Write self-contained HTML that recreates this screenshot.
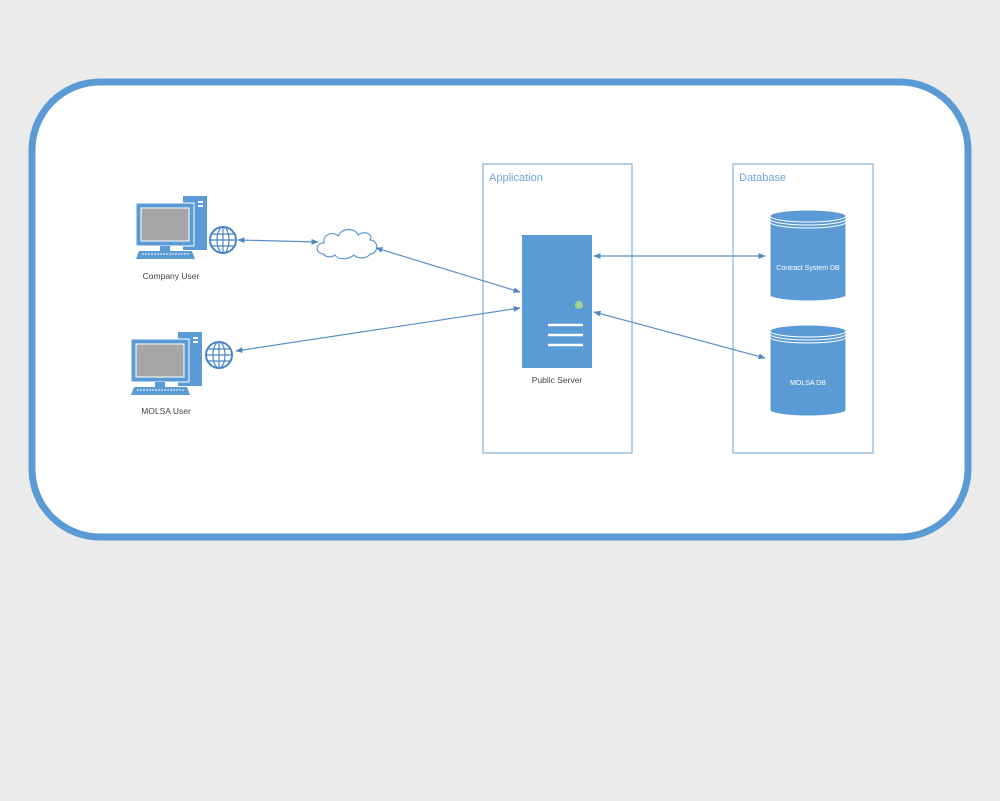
<!DOCTYPE html>
<html><head><style>body{margin:0;background:#ebebeb}svg{display:block}</style></head><body>
<svg width="1000" height="801" viewBox="0 0 1000 801" xmlns="http://www.w3.org/2000/svg" font-family="Liberation Sans, sans-serif">
<defs><marker id="a" viewBox="0 0 10 10" refX="9" refY="5" markerWidth="6" markerHeight="6" orient="auto-start-reverse"><path d="M0,1 L10,5 L0,9z" fill="#4f87c0"/></marker></defs>
<rect width="1000" height="801" fill="#ebebeb"/>
<rect x="32" y="82" width="936" height="455" rx="68" fill="#fff" stroke="#5b9bd5" stroke-width="7"/>
<g fill="none" stroke="#9dc0e0" stroke-width="1.5">
<rect x="483" y="164" width="149" height="289"/><rect x="733" y="164" width="140" height="289"/></g>
<text x="489" y="181" font-size="11" fill="#6fa3d6">Application</text>
<text x="739" y="181" font-size="11" fill="#6fa3d6">Database</text>
<!-- computers -->
<g id="pc1">
<rect x="183" y="196" width="24" height="54" fill="#5b9bd5"/><rect x="198" y="201" width="5" height="2" fill="#fff"/><rect x="198" y="205" width="5" height="2" fill="#fff"/>
<rect x="136" y="203" width="58" height="43" fill="#5b9bd5" stroke="#fff" stroke-width="1"/><rect x="141" y="208" width="48" height="33" fill="#a6a6a6" stroke="#fff"/>
<rect x="160" y="246" width="10" height="5" fill="#5b9bd5"/>
<path d="M139 251 H192 L195 259 H136z" fill="#5b9bd5"/><path d="M142 254 H190" stroke="#fff" stroke-dasharray="2 1"/>
</g>
<g transform="translate(-5,136)"><use href="#pc1"/></g>
<g fill="#fff" stroke="#4a86c5" stroke-width="2">
<circle cx="223" cy="240" r="13"/><circle cx="219" cy="355" r="13"/></g>
<g fill="none" stroke="#4a86c5" stroke-width="1.2">
<ellipse cx="223" cy="240" rx="6" ry="13"/><path d="M210 240H236M223 227V253M212 234H234M212 246H234"/>
<ellipse cx="219" cy="355" rx="6" ry="13"/><path d="M206 355H232M219 342V368M208 349H230M208 361H230"/></g>
<text x="171" y="279" font-size="8.5" fill="#444" text-anchor="middle">Company User</text>
<text x="166" y="414" font-size="8.5" fill="#444" text-anchor="middle">MOLSA User</text>
<!-- cloud -->
<path d="M324 254 C314 254 316 242 324 243 C322 234 334 231 338 236 C342 227 356 228 358 235 C364 230 374 234 370 240 C380 241 378 254 370 254 C366 260 356 258 354 255 C348 260 338 260 335 255 C331 258 325 257 324 254z" fill="#fff" stroke="#5b9bd5" stroke-width="1.2"/>
<!-- arrows -->
<g stroke="#5b8fc7" stroke-width="1.2" marker-start="url(#a)" marker-end="url(#a)">
<line x1="238" y1="240" x2="318" y2="242"/><line x1="376" y1="248" x2="520" y2="292"/>
<line x1="236" y1="351" x2="520" y2="308"/><line x1="594" y1="256" x2="765" y2="256"/>
<line x1="594" y1="312" x2="765" y2="358"/></g>
<!-- server -->
<rect x="522" y="235" width="70" height="133" fill="#5b9bd5"/>
<circle cx="579" cy="305" r="4" fill="#a8d08d"/>
<g stroke="#fff" stroke-width="2.5"><line x1="548" y1="325" x2="583" y2="325"/><line x1="548" y1="335" x2="583" y2="335"/><line x1="548" y1="345" x2="583" y2="345"/></g>
<text x="557" y="383" font-size="8.5" fill="#444" text-anchor="middle">Public Server</text>
<!-- dbs -->
<g fill="#5b9bd5" stroke="#fff" stroke-width="1">
<path d="M770 216 V295 A38 6 0 0 0 846 295 V216z"/><ellipse cx="808" cy="216" rx="38" ry="6"/>
<path d="M770 219 A38 6 0 0 0 846 219 M770 222 A38 6 0 0 0 846 222" fill="none"/>
<path d="M770 331 V410 A38 6 0 0 0 846 410 V331z"/><ellipse cx="808" cy="331" rx="38" ry="6"/>
<path d="M770 334 A38 6 0 0 0 846 334 M770 337 A38 6 0 0 0 846 337" fill="none"/></g>
<text x="808" y="270" font-size="7" fill="#fff" text-anchor="middle">Contract System DB</text>
<text x="808" y="385" font-size="7" fill="#fff" text-anchor="middle">MOLSA DB</text>
</svg>
</body></html>
